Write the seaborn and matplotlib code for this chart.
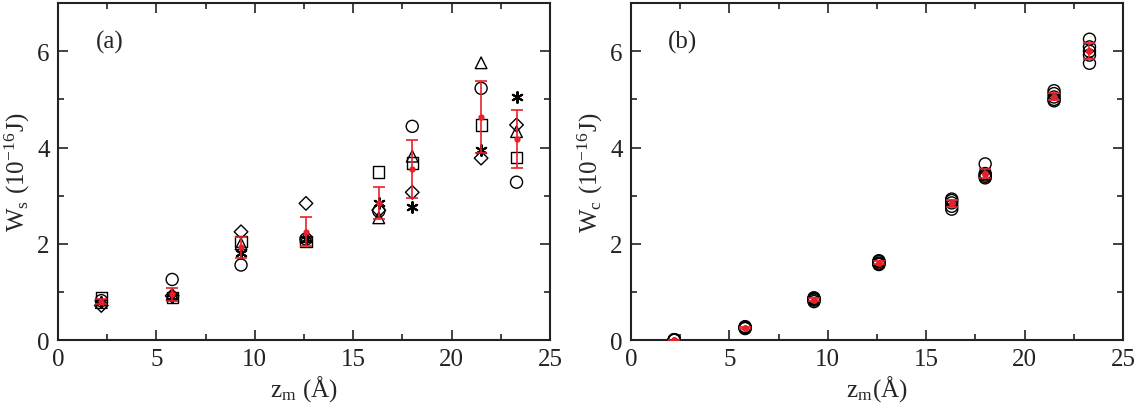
import numpy as np
import matplotlib
matplotlib.use("Agg")
import matplotlib.pyplot as plt
from matplotlib.ticker import MultipleLocator
import seaborn as sns

# positions along z_m (Angstrom)
z = [2.2, 5.8, 9.3, 12.6, 16.3, 18.0, 21.5, 23.3]

# panel (a): W_s for five runs (10^-16 J)
ws_circle = [0.82, 1.26, 1.56, 2.10, 2.68, 4.44, 5.23, 3.28]
ws_square = [0.88, 0.88, 2.05, 2.05, 3.49, 3.68, 4.47, 3.80]
ws_diamond = [0.72, 0.92, 2.25, 2.84, 2.70, 3.07, 3.78, 4.47]
ws_triangle = [0.78, 0.95, 2.00, 2.15, 2.54, 3.82, 5.76, 4.33]
ws_star = [0.80, 0.90, 1.80, 2.10, 2.85, 2.76, 3.95, 5.04]
ws_mean = [0.80, 0.95, 1.93, 2.25, 2.85, 3.55, 4.64, 4.18]
ws_err = [0.06, 0.14, 0.22, 0.30, 0.34, 0.60, 0.75, 0.60]

# panel (b): W_c for five runs (10^-16 J)
wc_run1 = [0.00, 0.24, 0.80, 1.57, 2.72, 3.37, 4.97, 5.75]
wc_run2 = [0.00, 0.26, 0.83, 1.60, 2.78, 3.40, 5.00, 5.92]
wc_run3 = [0.01, 0.27, 0.86, 1.63, 2.85, 3.43, 5.05, 6.00]
wc_run4 = [0.00, 0.25, 0.85, 1.65, 2.90, 3.46, 5.12, 6.09]
wc_run5 = [0.01, 0.28, 0.88, 1.58, 2.93, 3.66, 5.18, 6.25]
wc_mean = [0.00, 0.26, 0.84, 1.61, 2.84, 3.46, 5.06, 6.00]
wc_err = [0.01, 0.02, 0.03, 0.03, 0.08, 0.10, 0.08, 0.17]

sns.set_style("ticks")
plt.rcParams['font.family'] = ['Liberation Serif', 'DejaVu Serif']
plt.rcParams['mathtext.fontset'] = 'stix'

fig = plt.figure(figsize=(11.42, 4.10), dpi=100)
ax1 = fig.add_axes([0.0508, 0.168, 0.4308, 0.822])
ax2 = fig.add_axes([0.5525, 0.168, 0.4308, 0.822])


def style_axes(ax):
    ax.set_xlim(0, 25)
    ax.set_ylim(0, 7)
    ax.xaxis.set_major_locator(MultipleLocator(5))
    ax.xaxis.set_minor_locator(MultipleLocator(2.5))
    ax.yaxis.set_major_locator(MultipleLocator(2))
    ax.yaxis.set_minor_locator(MultipleLocator(1))
    ax.tick_params(which='both', direction='in', top=True, right=True,
                   labelsize=18, width=1.2, colors='#222222', pad=6)
    ax.tick_params(which='major', length=7)
    ax.tick_params(which='minor', length=4)
    for sp in ax.spines.values():
        sp.set_linewidth(1.5)
        sp.set_color('#222222')


open_kw = dict(facecolor='none', edgecolor='black', linewidth=1.0, zorder=3)

sns.scatterplot(x=z, y=ws_circle, marker='o', s=75, ax=ax1, **open_kw)
sns.scatterplot(x=z, y=ws_square, marker='s', s=65, ax=ax1, **open_kw)
sns.scatterplot(x=z, y=ws_diamond, marker='D', s=48, ax=ax1, **open_kw)
sns.scatterplot(x=z, y=ws_triangle, marker='^', s=70, ax=ax1, **open_kw)
sns.scatterplot(x=z, y=ws_star, marker=(6, 2, 0), s=60, color='black',
                linewidth=1.5, ax=ax1, zorder=3)
ax1.errorbar(z, ws_mean, yerr=ws_err, fmt='o', color='#e8202a', ms=3.5,
             elinewidth=1.2, capsize=4, capthick=1.2, zorder=4)

for run in [wc_run1, wc_run2, wc_run3, wc_run4, wc_run5]:
    sns.scatterplot(x=z, y=run, marker='o', s=75, ax=ax2, **open_kw)
ax2.errorbar(z, wc_mean, yerr=wc_err, fmt='o', color='#e8202a', ms=4,
             elinewidth=1.2, capsize=4, capthick=1.2, zorder=4)

style_axes(ax1)
style_axes(ax2)

ax1.set_xlabel(r'z$_\mathregular{m}$ ($\mathregular{\AA}$)', fontsize=18, labelpad=2)
ax1.set_ylabel(r'W$_\mathregular{s}$ (10$^\mathregular{-16}$J)', fontsize=18, labelpad=4)
ax2.set_xlabel(r'z$_\mathregular{m}$($\mathregular{\AA}$)', fontsize=18, labelpad=2)
ax2.set_ylabel(r'W$_\mathregular{c}$ (10$^\mathregular{-16}$J)', fontsize=18, labelpad=4)

ax1.text(1.9, 6.2, '(a)', fontsize=18, va='center')
ax2.text(1.9, 6.2, '(b)', fontsize=18, va='center')

fig.savefig('out.png', dpi=100)
